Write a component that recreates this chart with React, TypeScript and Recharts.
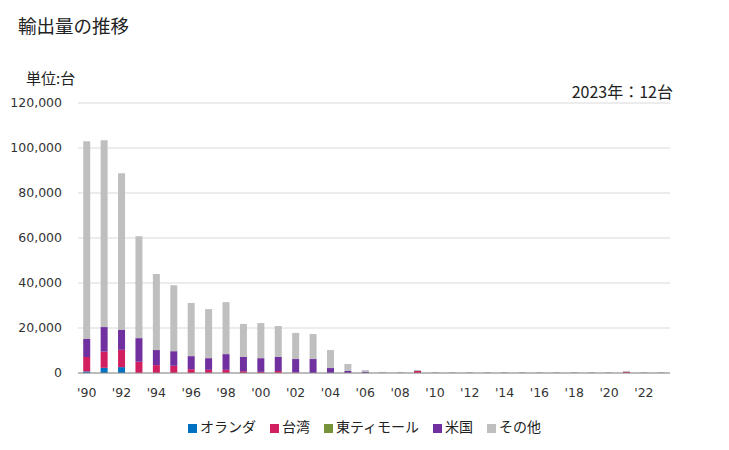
import React from "react";
import { BarChart, Bar, XAxis, YAxis, CartesianGrid } from "recharts";

const years = [
  1990, 1991, 1992, 1993, 1994, 1995, 1996, 1997, 1998, 1999,
  2000, 2001, 2002, 2003, 2004, 2005, 2006, 2007, 2008, 2009,
  2010, 2011, 2012, 2013, 2014, 2015, 2016, 2017, 2018, 2019,
  2020, 2021, 2022, 2023,
];

const netherlands = [
  700, 2300, 2600, 0, 0, 0, 0, 0, 0, 0,
  0, 0, 0, 0, 0, 0, 0, 0, 0, 0,
  0, 0, 0, 0, 0, 0, 0, 0, 0, 0,
  0, 0, 0, 0,
];
const taiwan = [
  6400, 7200, 7700, 5000, 3500, 3200, 1700, 1400, 1400, 800,
  500, 900, 200, 0, 0, 0, 0, 0, 0, 900,
  0, 0, 0, 0, 0, 0, 0, 0, 0, 0,
  0, 500, 0, 0,
];
const timorLeste = [
  0, 0, 0, 0, 0, 0, 0, 0, 0, 0,
  0, 0, 0, 0, 0, 0, 0, 0, 0, 0,
  0, 0, 0, 0, 0, 0, 0, 0, 0, 0,
  0, 0, 0, 0,
];
const usa = [
  8000, 10900, 8800, 10500, 6700, 6500, 5800, 5200, 7000, 6300,
  6100, 6200, 6000, 6200, 2200, 900, 600, 0, 0, 0,
  0, 0, 0, 0, 0, 0, 0, 0, 0, 0,
  0, 0, 0, 0,
];
const others = [
  87900, 83100, 69700, 45300, 33800, 29300, 23600, 21800, 23100, 14700,
  15600, 13800, 11600, 11100, 8000, 3100, 700, 500, 500, 300,
  350, 350, 350, 350, 350, 350, 350, 350, 350, 350,
  350, 0, 350, 12,
];

const yTicks = [0, 20000, 40000, 60000, 80000, 100000, 120000];

const series = [
  { key: "nl", name: "オランダ", color: "#0070C0", values: netherlands },
  { key: "tw", name: "台湾", color: "#D21F5F", values: taiwan },
  { key: "tl", name: "東ティモール", color: "#76933C", values: timorLeste },
  { key: "us", name: "米国", color: "#7030A0", values: usa },
  { key: "ot", name: "その他", color: "#BFBFBF", values: others },
];

const data = years.map((y, i) => {
  const row: Record<string, number | string> = { year: "'" + String(y).slice(2) };
  series.forEach((s) => {
    row[s.key] = s.values[i];
  });
  return row;
});

const jp = '"Noto Sans CJK JP", "Noto Sans", sans-serif';
const tickStyle = { fontFamily: "DejaVu Sans", fontSize: 12.5 };

export default function App() {
  return (
    <div
      style={{
        position: "absolute",
        left: 0,
        top: 0,
        width: 729,
        height: 450,
        background: "#fff",
        fontFamily: jp,
      }}
    >
      <div
        style={{
          position: "absolute",
          left: 18,
          top: 13,
          fontSize: 18.5,
          color: "#222",
          lineHeight: "24px",
          whiteSpace: "nowrap",
        }}
      >
        輸出量の推移
      </div>
      <div
        style={{
          position: "absolute",
          left: 26,
          top: 68,
          fontSize: 15,
          color: "#222",
          lineHeight: "20px",
          whiteSpace: "nowrap",
        }}
      >
        単位:台
      </div>
      <div
        style={{
          position: "absolute",
          right: 729 - 673,
          top: 80,
          fontSize: 16,
          color: "#222",
          lineHeight: "22px",
          whiteSpace: "nowrap",
        }}
      >
        2023年：12台
      </div>
      <div style={{ position: "absolute", left: 0, top: 0 }}>
        <BarChart
          width={729}
          height={450}
          data={data}
          margin={{ top: 103, right: 59, left: 0, bottom: 47 }}
          barCategoryGap="30%"
        >
          <CartesianGrid vertical={false} stroke="#d9d9d9" />
          <XAxis
            dataKey="year"
            interval={1}
            tickLine={false}
            axisLine={{ stroke: "#8c8c8c" }}
            tickMargin={9}
            height={30}
            tick={{ fill: "#333", style: tickStyle }}
          />
          <YAxis
            width={78}
            domain={[0, 120000]}
            ticks={yTicks}
            tickLine={false}
            axisLine={false}
            tickMargin={10}
            tickFormatter={(v: number) => v.toLocaleString("en-US")}
            tick={{ fill: "#333", style: tickStyle }}
          />
          {series.map((s) => (
            <Bar
              key={s.key}
              dataKey={s.key}
              name={s.name}
              stackId="a"
              fill={s.color}
              isAnimationActive={false}
              minPointSize={s.key === "ot" ? ((v: number) => (v > 0 ? 1 : 0)) as any : 0}
            />
          ))}
        </BarChart>
      </div>
      <div
        style={{
          position: "absolute",
          left: 0,
          top: 416,
          width: 729,
          display: "flex",
          justifyContent: "center",
          fontSize: 14,
          color: "#222",
          lineHeight: "20px",
        }}
      >
        {series.map((s) => (
          <div
            key={s.key}
            style={{ display: "flex", alignItems: "center", margin: "0 7px" }}
          >
            <span
              style={{
                display: "inline-block",
                width: 9,
                height: 9,
                background: s.color,
                marginRight: 3,
                marginTop: 4,
              }}
            />
            <span>{s.name}</span>
          </div>
        ))}
      </div>
    </div>
  );
}
